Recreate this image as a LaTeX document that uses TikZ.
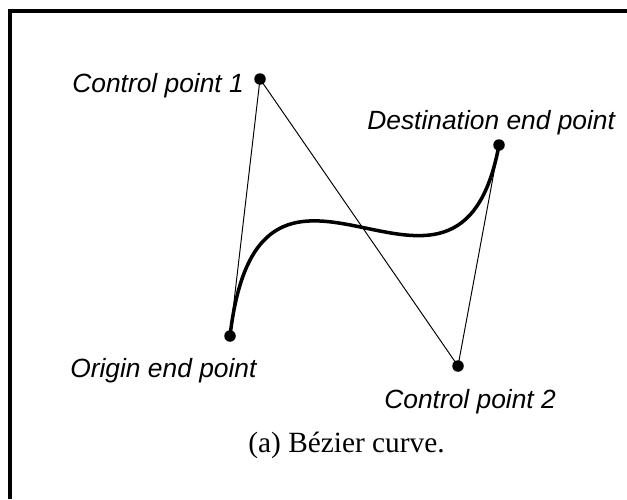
\documentclass[tikz,border=0pt]{standalone}
\usepackage{fontspec}
\setmainfont{Liberation Serif}
\newfontfamily\labelfont{Liberation Sans}
\usepackage{tikz}

\begin{document}
\begin{tikzpicture}[
        dot/.style={circle, fill=black, inner sep=0pt, minimum size=0.23cm},
        lbl/.style={font=\labelfont\itshape\fontsize{15}{18}\selectfont, inner sep=0pt, anchor=base west},
        guide/.style={line width=0.55pt},
        curve/.style={line width=2pt}
    ]

        \useasboundingbox (0,0) rectangle (12.54,9.98);

        % FRAME
        \coordinate (frame_bl) at (0.2,0);
        \coordinate (frame_tl) at (0.2,9.76);
        \coordinate (frame_tr) at (12.54,9.76);
        \draw[line width=2.3pt] (frame_bl) -- (frame_tl) -- (frame_tr);

        % POINTS
        \coordinate (origin) at (4.60,3.26);
        \coordinate (ctrl1) at (5.20,8.40);
        \coordinate (ctrl2) at (9.16,2.66);
        \coordinate (dest) at (9.98,7.08);

        % CONTROL POLYGON
        \draw[guide] (origin) -- (ctrl1) -- (ctrl2) -- (dest);

        % CURVE
        \draw[curve] (origin) .. controls (ctrl1) and (ctrl2) .. (dest);

        \node[dot] (origin_dot) at (origin) {};
        \node[dot] (ctrl1_dot) at (ctrl1) {};
        \node[dot] (ctrl2_dot) at (ctrl2) {};
        \node[dot] (dest_dot) at (dest) {};

        % LABELS
        \node[lbl] (ctrl1_lbl) at (1.44,8.14) {Control point 1};
        \node[lbl] (dest_lbl) at (7.34,7.40) {Destination end point};
        \node[lbl] (origin_lbl) at (1.40,2.44) {Origin end point};
        \node[lbl] (ctrl2_lbl) at (7.68,1.82) {Control point 2};

        \node[font=\fontsize{16.7}{20}\selectfont, inner sep=0pt, anchor=base] (caption) at (6.93,0.94) {(a) Bézier curve.};
    \end{tikzpicture}
\end{document}
